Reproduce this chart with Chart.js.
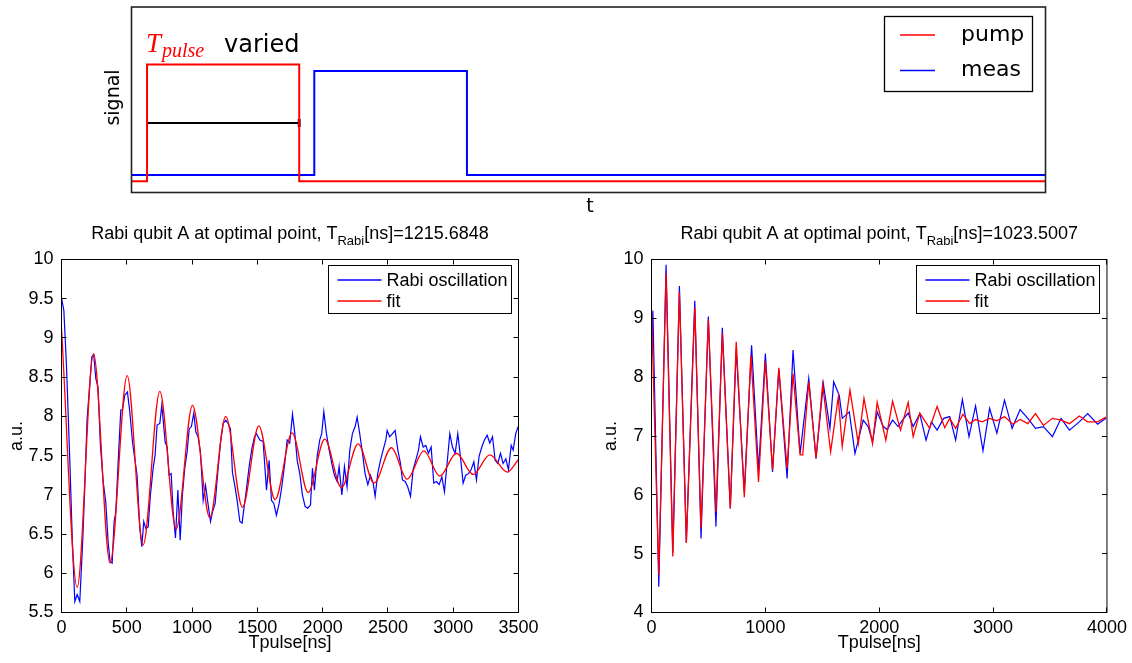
<!DOCTYPE html>
<html>
<head>
<meta charset="utf-8">
<title>Rabi oscillations</title>
<script src="https://cdn.jsdelivr.net/npm/chart.js@4.4.1/dist/chart.umd.min.js"></script>
<style>
  html, body { margin: 0; padding: 0; background: #fff; }
  #page { position: relative; width: 1132px; height: 663px; overflow: hidden; background: #fff; }
  #page canvas { position: absolute; }
</style>
</head>
<body>
<div id="page">
  <canvas id="pulses" width="1132" height="215" style="left:0px;top:0px"></canvas>
  <canvas id="rabiLeft" width="560" height="448" style="left:0px;top:215px"></canvas>
  <canvas id="rabiRight" width="566" height="448" style="left:566px;top:215px"></canvas>
</div>
<script>
// ---------------------------------------------------------------
// Data
// ---------------------------------------------------------------

// pulse sketch (arbitrary time units 0..100, signal 0..1)
const pumpTime = [0, 1.7, 1.7, 18.35, 18.35, 100];
const pumpLevel = [0.06, 0.06, 0.69, 0.69, 0.06, 0.06];
const measTime = [0, 20.0, 20.0, 36.7, 36.7, 100];
const measLevel = [0.094, 0.094, 0.655, 0.655, 0.094, 0.094];
const spanTime = [1.7, 18.35];
const spanLevel = [0.375, 0.375];

// left panel: Tpulse [ns] vs a.u.
const leftRabiT = [0, 18, 38, 64, 84, 102, 120, 140, 161, 178,
    196, 212, 232, 247, 263, 280, 298, 319, 339, 357,
    372, 388, 403, 416, 434, 454, 467, 485, 505, 523,
    544, 561, 579, 600, 615, 630, 646, 664, 681, 702,
    717, 732, 753, 768, 778, 794, 809, 824, 840, 855,
    873, 891, 909, 926, 944, 962, 978, 995, 1013, 1029,
    1046, 1064, 1085, 1103, 1120, 1141, 1156, 1177, 1197, 1218,
    1238, 1258, 1276, 1294, 1309, 1327, 1345, 1366, 1383, 1399,
    1417, 1437, 1458, 1478, 1493, 1519, 1544, 1570, 1590, 1608,
    1626, 1646, 1667, 1687, 1710, 1728, 1748, 1769, 1787, 1805,
    1825, 1845, 1866, 1886, 1907, 1922, 1937, 1958, 1978, 1993,
    2009, 2029, 2050, 2070, 2090, 2111, 2126, 2147, 2167, 2187,
    2208, 2228, 2249, 2264, 2284, 2305, 2325, 2346, 2366, 2387,
    2402, 2422, 2443, 2463, 2484, 2494, 2514, 2535, 2555, 2576,
    2596, 2611, 2632, 2652, 2673, 2693, 2713, 2734, 2749, 2770,
    2790, 2810, 2831, 2851, 2872, 2892, 2913, 2933, 2953, 2974,
    2994, 3015, 3035, 3055, 3076, 3096, 3117, 3137, 3158, 3178,
    3198, 3219, 3239, 3260, 3280, 3301, 3321, 3341, 3362, 3382,
    3403, 3423, 3444, 3459, 3479, 3497];
const leftRabiV = [9.51, 9.35, 8.65, 7.42, 6.36, 5.64, 5.73, 5.64, 6.36, 7.08,
    7.97, 8.31, 8.76, 8.78, 8.48, 8.37, 7.63, 7.17, 6.91, 6.40,
    6.15, 6.13, 6.66, 6.78, 7.42, 8.08, 8.09, 8.27, 8.31, 8.06,
    7.67, 7.46, 7.25, 6.57, 6.34, 6.66, 6.57, 6.59, 7.00, 7.34,
    7.51, 7.89, 7.91, 8.14, 7.97, 7.67, 7.61, 7.25, 7.27, 6.78,
    6.45, 7.06, 6.42, 7.00, 7.34, 7.55, 7.84, 7.87, 8.04, 7.80,
    7.74, 7.55, 6.93, 7.12, 6.91, 6.66, 6.78, 6.89, 7.29, 7.67,
    7.91, 7.95, 7.91, 7.84, 7.29, 7.12, 6.93, 6.66, 6.64, 6.85,
    7.08, 7.36, 7.59, 7.74, 7.78, 7.70, 7.68, 7.06, 7.44, 6.93,
    6.89, 6.74, 6.89, 7.10, 7.40, 7.70, 7.66, 8.03, 7.78, 7.44,
    7.27, 7.00, 6.85, 6.83, 6.87, 7.34, 7.06, 7.49, 7.70, 7.78,
    8.06, 7.78, 7.57, 7.40, 7.25, 7.17, 7.36, 7.00, 7.36, 7.10,
    7.57, 7.78, 7.87, 7.99, 7.78, 7.53, 7.27, 7.13, 7.25, 7.15,
    6.98, 7.27, 7.44, 7.57, 7.70, 7.82, 7.74, 7.78, 7.82, 7.57,
    7.40, 7.19, 7.17, 7.10, 6.98, 7.32, 7.44, 7.57, 7.74, 7.61,
    7.63, 7.53, 7.61, 7.15, 7.17, 7.13, 7.23, 7.04, 7.40, 7.78,
    7.61, 7.53, 7.78, 7.49, 7.15, 7.25, 7.27, 7.32, 7.42, 7.19,
    7.49, 7.61, 7.70, 7.76, 7.66, 7.74, 7.44, 7.40, 7.53, 7.40,
    7.46, 7.32, 7.63, 7.57, 7.78, 7.87];
// fit read at its turning points (drawn smooth)
const leftFitT = [0, 120, 245, 372, 503, 625, 753, 878, 1003, 1136,
    1258, 1386, 1511, 1636, 1766, 1889, 2016, 2144, 2272, 2394,
    2527, 2647, 2775, 2897, 3025, 3153, 3280, 3413, 3500];
const leftFitV = [9.12, 5.82, 8.80, 6.13, 8.52, 6.36, 8.32, 6.56, 8.14, 6.71,
    8.00, 6.84, 7.88, 6.94, 7.79, 7.03, 7.71, 7.09, 7.65, 7.15,
    7.60, 7.20, 7.56, 7.24, 7.53, 7.26, 7.51, 7.29, 7.45];

// right panel
const rightRabiT = [0, 12, 64, 128, 187, 245, 306, 380, 435, 499,
    566, 622, 692, 744, 815, 879, 940, 1000, 1063, 1118,
    1191, 1243, 1305, 1381, 1445, 1509, 1567, 1600, 1649, 1675,
    1737, 1787, 1859, 1903, 1941, 1982, 2035, 2070, 2117, 2166,
    2204, 2254, 2298, 2356, 2411, 2458, 2508, 2566, 2619, 2671,
    2730, 2788, 2846, 2911, 2969, 3033, 3100, 3167, 3237, 3305,
    3372, 3442, 3521, 3597, 3670, 3757, 3830, 3918, 3991];
const rightRabiV = [8.40, 9.13, 4.44, 9.91, 5.01, 9.55, 5.18, 9.30, 5.26, 9.03,
    5.46, 8.84, 5.77, 8.48, 6.05, 8.54, 6.42, 8.40, 6.39, 8.14,
    6.28, 8.46, 6.70, 7.98, 6.62, 7.89, 7.13, 7.92, 7.69, 7.30,
    7.41, 6.70, 7.27, 7.16, 6.90, 7.41, 7.16, 7.11, 7.27, 7.16,
    7.27, 7.39, 7.16, 7.38, 6.93, 7.24, 7.10, 7.30, 7.33, 6.93,
    7.62, 6.99, 7.51, 6.75, 7.47, 7.05, 7.61, 7.13, 7.45, 7.30,
    7.13, 7.16, 6.99, 7.30, 7.10, 7.24, 7.38, 7.20, 7.30];
const rightFitT = [0, 64, 128, 187, 245, 306, 380, 435, 499, 566,
    622, 692, 744, 815, 873, 940, 1000, 1063, 1118, 1191,
    1243, 1305, 1328, 1381, 1445, 1503, 1573, 1640, 1675, 1743,
    1816, 1866, 1941, 1982, 2058, 2117, 2187, 2254, 2298, 2356,
    2443, 2508, 2575, 2619, 2671, 2735, 2794, 2846, 2905, 2969,
    3033, 3100, 3173, 3237, 3305, 3372, 3442, 3521, 3597, 3670,
    3757, 3830, 3918, 3991];
const rightFitV = [9.16, 4.64, 9.76, 4.95, 9.45, 5.18, 9.19, 5.43, 8.98, 5.71,
    8.75, 5.77, 8.60, 5.96, 8.37, 6.22, 8.27, 6.42, 8.16, 6.45,
    8.06, 6.68, 6.68, 7.92, 6.62, 7.88, 6.73, 7.66, 6.82, 7.78,
    6.87, 7.64, 6.87, 7.57, 6.93, 7.59, 7.10, 7.57, 6.99, 7.39,
    7.13, 7.50, 7.14, 7.30, 7.13, 7.37, 7.21, 7.28, 7.24, 7.30,
    7.26, 7.33, 7.20, 7.28, 7.21, 7.38, 7.18, 7.30, 7.27, 7.21,
    7.34, 7.24, 7.24, 7.32];

// ---------------------------------------------------------------
// Styles / helpers
// ---------------------------------------------------------------
const RED = '#ff0000';
const BLUE = '#0000ff';
const AXIS_FONT = '"Liberation Sans", Arial, Helvetica, sans-serif';
const SKETCH_FONT = '"DejaVu Sans", sans-serif';
const TICK_LEN = 5;

function toPoints(xs, ys) {
    return xs.map((x, i) => ({ x: x, y: ys[i] }));
}

function crisp(p) {
    return Math.floor(p) + 0.5;
}

// plain tick text like MATLAB: 10, 9.5, 1000
function plainTick(value) {
    return String(Number(value.toFixed(3)));
}

// draw text made of runs (normal + subscript), centred on cx
function drawRuns(ctx, runs, cx, y) {
    let total = 0;
    runs.forEach(r => {
        ctx.font = r.size + 'px ' + AXIS_FONT;
        r.w = ctx.measureText(r.text).width;
        total += r.w;
    });
    let x = cx - total / 2;
    ctx.textAlign = 'left';
    ctx.textBaseline = 'alphabetic';
    runs.forEach(r => {
        ctx.font = r.size + 'px ' + AXIS_FONT;
        ctx.fillText(r.text, x, y + (r.dy || 0));
        x += r.w;
    });
}

/**
 * MATLAB-like axes: box, inward ticks on all sides, legend, title, labels
 */
const matlabAxes = {
    id: 'matlabAxes',
    afterDatasetsDraw(chart, args, opts) {
        const ctx = chart.ctx;
        const a = chart.chartArea;
        const sx = chart.scales.x;
        const sy = chart.scales.y;

        ctx.save();
        ctx.strokeStyle = '#000';
        ctx.lineWidth = 1;
        ctx.beginPath();
        sx.ticks.forEach(t => {
            const x = crisp(sx.getPixelForValue(t.value));
            ctx.moveTo(x, a.bottom);
            ctx.lineTo(x, a.bottom - TICK_LEN);
            ctx.moveTo(x, a.top);
            ctx.lineTo(x, a.top + TICK_LEN);
        });
        sy.ticks.forEach(t => {
            const y = crisp(sy.getPixelForValue(t.value));
            ctx.moveTo(a.left, y);
            ctx.lineTo(a.left + TICK_LEN, y);
            ctx.moveTo(a.right, y);
            ctx.lineTo(a.right - TICK_LEN, y);
        });
        ctx.stroke();
        ctx.strokeRect(a.left, a.top, a.right - a.left, a.bottom - a.top);

        // legend (data first, fit second)
        const items = [chart.data.datasets[1], chart.data.datasets[0]];
        ctx.font = '18px ' + AXIS_FONT;
        const textW = Math.max(...items.map(d => ctx.measureText(d.label).width));
        const w = Math.round(9 + 44 + 5 + textW + 4);
        const h = 48;
        const x0 = crisp(a.right - 7 - w);
        const y0 = crisp(a.top + 6);
        ctx.fillStyle = '#fff';
        ctx.fillRect(x0, y0, w, h);
        ctx.strokeStyle = '#000';
        ctx.lineWidth = 1;
        ctx.strokeRect(x0, y0, w, h);
        items.forEach((d, i) => {
            const y = Math.round(y0 + 14 + i * 21.7);
            ctx.strokeStyle = i === 0 ? BLUE : RED;
            ctx.lineWidth = 1.4;
            ctx.beginPath();
            ctx.moveTo(x0 + 9, y);
            ctx.lineTo(x0 + 53, y);
            ctx.stroke();
            ctx.fillStyle = '#000';
            ctx.textAlign = 'left';
            ctx.textBaseline = 'middle';
            ctx.fillText(d.label, x0 + 58, y + 1);
        });
        ctx.restore();
    },
    afterDraw(chart, args, opts) {
        const ctx = chart.ctx;
        const a = chart.chartArea;
        const cx = (a.left + a.right) / 2;
        ctx.save();
        ctx.fillStyle = '#000';
        drawRuns(ctx, opts.title, cx, opts.titleY);

        ctx.font = '18px ' + AXIS_FONT;
        ctx.textAlign = 'center';
        ctx.textBaseline = 'middle';
        ctx.fillText(opts.xLabel, cx, opts.xLabelY);

        ctx.translate(opts.yLabelX, (a.top + a.bottom) / 2);
        ctx.rotate(-Math.PI / 2);
        ctx.fillText(opts.yLabel, 0, 0);
        ctx.restore();
    }
};

function rabiChart(id, cfg) {
    const tickFont = { family: AXIS_FONT, size: 18 };
    return new Chart(document.getElementById(id), {
        type: 'line',
        data: {
            datasets: [
                {
                    label: 'fit',
                    data: toPoints(cfg.fitT, cfg.fitV),
                    borderColor: RED,
                    borderWidth: 1.3,
                    pointRadius: 0,
                    tension: cfg.smoothFit ? 0.4 : 0,
                    cubicInterpolationMode: cfg.smoothFit ? 'monotone' : 'default',
                    order: 0
                },
                {
                    label: 'Rabi oscillation',
                    data: toPoints(cfg.dataT, cfg.dataV),
                    borderColor: BLUE,
                    borderWidth: 1.2,
                    pointRadius: 0,
                    tension: 0,
                    order: 1
                }
            ]
        },
        options: {
            responsive: false,
            animation: false,
            devicePixelRatio: 1,
            events: [],
            layout: { padding: { left: 0, top: 44.5, right: cfg.padRight, bottom: 0 } },
            scales: {
                x: {
                    type: 'linear',
                    min: 0,
                    max: cfg.xMax,
                    afterFit: s => { s.height = 50.5; },
                    grid: { display: false, drawTicks: false },
                    border: { display: false },
                    ticks: {
                        stepSize: cfg.xStep, padding: 5, color: '#000', font: tickFont,
                        maxRotation: 0, autoSkip: false, callback: plainTick
                    }
                },
                y: {
                    type: 'linear',
                    min: cfg.yMin,
                    max: cfg.yMax,
                    afterFit: s => { s.width = cfg.yAxisW; },
                    grid: { display: false, drawTicks: false },
                    border: { display: false },
                    ticks: {
                        stepSize: cfg.yStep, padding: 8, color: '#000', font: tickFont,
                        autoSkip: false, callback: plainTick
                    }
                }
            },
            plugins: {
                legend: { display: false },
                tooltip: { enabled: false },
                matlabAxes: {
                    title: cfg.title,
                    titleY: 23.5,
                    xLabel: 'Tpulse[ns]',
                    xLabelY: 428,
                    yLabel: 'a.u.',
                    yLabelX: cfg.yLabelX
                }
            }
        },
        plugins: [matlabAxes]
    });
}

/**
 * Pulse sketch on top: frame, legend and annotations
 */
const pulseSketch = {
    id: 'pulseSketch',
    afterDatasetsDraw(chart) {
        const ctx = chart.ctx;
        const a = chart.chartArea;
        ctx.save();
        ctx.strokeStyle = '#222';
        ctx.lineWidth = 1.6;
        ctx.strokeRect(a.left, a.top, a.right - a.left, a.bottom - a.top);

        // legend box
        const lx = 884.5, ly = 16.5, lw = 148, lh = 75;
        ctx.fillStyle = '#fff';
        ctx.fillRect(lx, ly, lw, lh);
        ctx.lineWidth = 1.3;
        ctx.strokeStyle = '#000';
        ctx.strokeRect(lx, ly, lw, lh);
        const items = chart.data.datasets.slice(0, 2);
        items.forEach((d, i) => {
            const y = 35 + i * 35.5;
            ctx.strokeStyle = d.borderColor;
            ctx.lineWidth = 1.4;
            ctx.beginPath();
            ctx.moveTo(900, y);
            ctx.lineTo(935, y);
            ctx.stroke();
            ctx.fillStyle = '#000';
            ctx.font = '22px ' + SKETCH_FONT;
            ctx.textAlign = 'left';
            ctx.textBaseline = 'middle';
            ctx.fillText(d.label, 961, y);
        });

        // T_pulse varied
        ctx.fillStyle = RED;
        ctx.textBaseline = 'alphabetic';
        ctx.font = 'italic 27px "Liberation Serif", serif';
        ctx.fillText('T', 146, 51.5);
        const tw = ctx.measureText('T').width;
        ctx.font = 'italic 20px "Liberation Serif", serif';
        ctx.fillText('pulse', 146 + tw + 1, 57);
        ctx.fillStyle = '#000';
        ctx.font = '24px ' + SKETCH_FONT;
        ctx.fillText('varied', 224, 51.5);

        // axis labels
        ctx.font = '19px ' + SKETCH_FONT;
        ctx.textAlign = 'center';
        ctx.textBaseline = 'middle';
        ctx.fillText('t', 590, 207);
        ctx.translate(114, 97.5);
        ctx.rotate(-Math.PI / 2);
        ctx.fillText('signal', 0, 0);
        ctx.restore();
    }
};

// ---------------------------------------------------------------
// Charts
// ---------------------------------------------------------------
new Chart(document.getElementById('pulses'), {
    type: 'line',
    data: {
        datasets: [
            { label: 'pump', data: toPoints(pumpTime, pumpLevel), borderColor: RED, borderWidth: 2, pointRadius: 0, order: 0 },
            { label: 'meas', data: toPoints(measTime, measLevel), borderColor: BLUE, borderWidth: 2, pointRadius: 0, order: 1 },
            {
                label: 'span',
                data: toPoints(spanTime, spanLevel),
                borderColor: '#000',
                borderWidth: 2,
                pointStyle: 'line',
                pointRotation: 90,
                pointRadius: [0, 4],
                pointBorderWidth: 3,
                pointBorderColor: '#222',
                order: 2
            }
        ]
    },
    options: {
        responsive: false,
        animation: false,
        devicePixelRatio: 1,
        events: [],
        layout: { padding: { left: 131.5, top: 4.5, right: 86.5, bottom: 22.5 } },
        scales: {
            x: { type: 'linear', min: 0, max: 100, display: false },
            y: { type: 'linear', min: 0, max: 1, display: false }
        },
        plugins: { legend: { display: false }, tooltip: { enabled: false } }
    },
    plugins: [pulseSketch]
});

rabiChart('rabiLeft', {
    dataT: leftRabiT, dataV: leftRabiV,
    fitT: leftFitT, fitV: leftFitV, smoothFit: true,
    xMax: 3500, xStep: 500,
    yMin: 5.5, yMax: 10, yStep: 0.5,
    yAxisW: 61.5, padRight: 41.5, yLabelX: 17,
    title: [
        { text: 'Rabi qubit A at optimal point, T', size: 18 },
        { text: 'Rabi', size: 13, dy: 6 },
        { text: '[ns]=1215.6848', size: 18 }
    ]
});

rabiChart('rabiRight', {
    dataT: rightRabiT, dataV: rightRabiV,
    fitT: rightFitT, fitV: rightFitV, smoothFit: false,
    xMax: 4000, xStep: 1000,
    yMin: 4, yMax: 10, yStep: 1,
    yAxisW: 85.5, padRight: 24.5, yLabelX: 45,
    title: [
        { text: 'Rabi qubit A at optimal point, T', size: 18 },
        { text: 'Rabi', size: 13, dy: 6 },
        { text: '[ns]=1023.5007', size: 18 }
    ]
});
</script>
</body>
</html>
